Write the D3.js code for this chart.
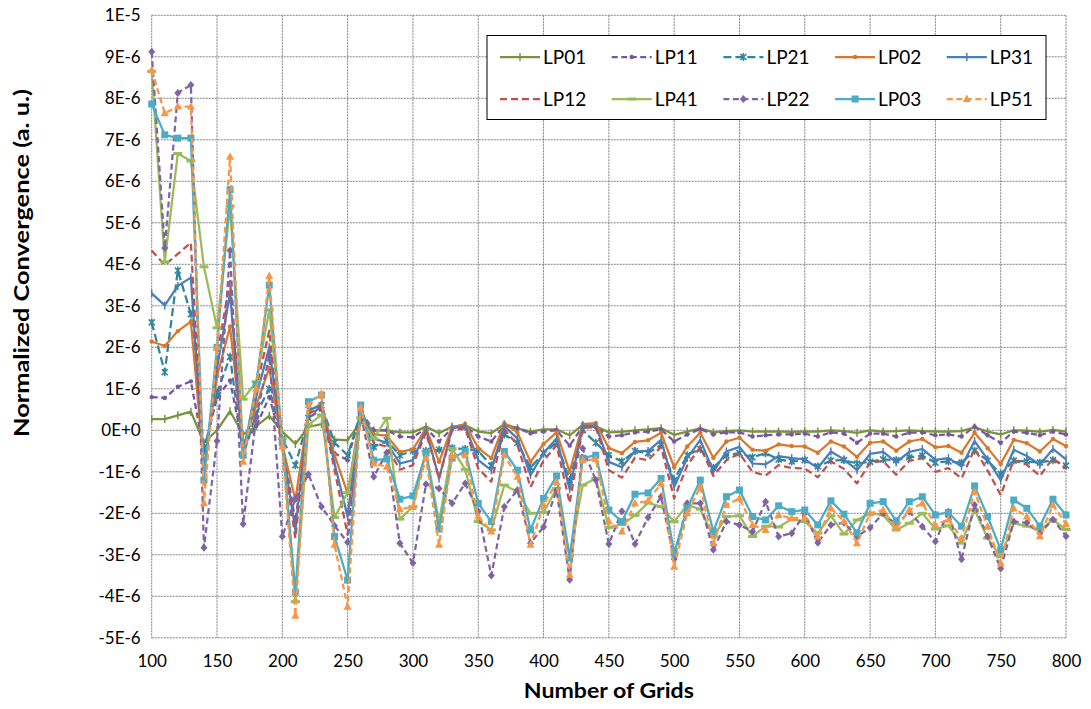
<!DOCTYPE html>
<html><head><meta charset="utf-8">
<script src="https://cdn.jsdelivr.net/npm/d3@7"></script>
<style>
body{margin:0;background:#fff;}
svg{display:block;font-family:Lato,"Open Sans",sans-serif;}
</style></head>
<body><svg id="c" width="1091" height="709"></svg>
<script>
const grids = [100,110,120,130,140,150,160,170,180,190,200,210,220,230,240,250,260,270,280,290,300,310,320,330,340,350,360,370,380,390,400,410,420,430,440,450,460,470,480,490,500,510,520,530,540,550,560,570,580,590,600,610,620,630,640,650,660,670,680,690,700,710,720,730,740,750,760,770,780,790,800];
const xTicks = [100,150,200,250,300,350,400,450,500,550,600,650,700,750,800];
const yTicks = [10,9,8,7,6,5,4,3,2,1,0,-1,-2,-3,-4,-5];
const yTickLabels = ["1E-5","9E-6","8E-6","7E-6","6E-6","5E-6","4E-6","3E-6","2E-6","1E-6","0E+0","-1E-6","-2E-6","-3E-6","-4E-6","-5E-6"];
const seriesNames = ["LP01","LP11","LP21","LP02","LP31","LP12","LP41","LP22","LP03","LP51"];
// values in units of 1E-6
const LP01 = [0.27,0.27,0.36,0.45,-0.3,0.0,0.46,-0.1,0.1,0.35,-0.03,-0.33,0.08,0.15,-0.22,-0.24,0.2,0.0,0.0,-0.05,-0.05,0.09,-0.07,0.09,0.12,-0.03,-0.07,0.15,0.05,-0.03,0.02,0.02,-0.12,0.13,0.1,-0.05,-0.04,0.0,0.02,0.05,-0.11,-0.03,0.05,-0.05,-0.02,0.0,-0.03,-0.03,-0.03,-0.04,-0.03,-0.03,0.0,-0.02,-0.06,0.0,-0.03,-0.02,0.0,-0.02,-0.03,-0.03,-0.02,0.07,-0.03,-0.1,0.0,-0.01,-0.04,0.01,-0.03];
const LP11 = [0.8,0.78,1.05,1.18,-0.5,0.8,1.2,-0.4,0.1,0.8,-0.3,-2.2,0.3,0.5,-0.55,-0.72,0.45,0.0,0.0,-0.15,-0.17,0.05,-0.27,0.05,0.1,-0.15,-0.27,0.12,0.05,-0.07,-0.03,0.0,-0.37,0.1,0.08,-0.15,-0.12,-0.05,-0.03,0.02,-0.27,-0.1,0.03,-0.1,-0.05,-0.05,-0.15,-0.12,-0.1,-0.1,-0.08,-0.15,-0.05,-0.08,-0.3,-0.08,-0.08,-0.15,-0.06,-0.05,-0.12,-0.1,-0.15,0.09,-0.12,-0.3,-0.03,-0.06,-0.12,-0.03,-0.1];
const LP21 = [2.6,1.4,3.85,2.8,-0.5,0.9,1.77,-0.6,0.4,1.0,-0.2,-0.84,0.3,0.6,-0.3,-0.6,0.4,-0.4,-0.25,-0.6,-0.5,-0.5,-0.47,-0.43,-0.45,-0.5,-0.85,-0.1,-0.3,-0.9,-0.55,-0.3,-1.2,0.0,-0.3,-0.6,-0.75,-0.5,-0.55,-0.35,-1.2,-0.6,-0.45,-0.9,-0.6,-0.55,-0.65,-0.55,-0.7,-0.75,-0.72,-0.87,-0.73,-0.72,-0.8,-0.76,-0.7,-0.72,-0.65,-0.61,-0.78,-0.75,-0.78,-0.49,-0.73,-1.05,-0.73,-0.75,-0.78,-0.72,-0.85];
const LP02 = [2.14,2.03,2.39,2.62,-0.9,1.3,2.5,-0.4,0.6,1.5,-0.35,-1.68,0.45,0.65,-0.6,-1.52,0.45,-0.1,-0.13,-0.52,-0.46,0.05,-0.76,0.08,0.15,-0.43,-0.67,0.17,-0.05,-0.76,-0.33,-0.05,-1.0,0.15,0.17,-0.43,-0.55,-0.28,-0.24,-0.06,-0.89,-0.39,-0.06,-0.66,-0.27,-0.18,-0.47,-0.49,-0.34,-0.38,-0.39,-0.54,-0.27,-0.39,-0.64,-0.3,-0.27,-0.49,-0.27,-0.21,-0.41,-0.38,-0.54,-0.06,-0.43,-0.81,-0.23,-0.31,-0.51,-0.21,-0.38];
const LP31 = [3.3,3.01,3.48,3.68,-1.0,1.5,3.3,-0.5,0.8,2.0,-0.4,-2.4,0.49,0.6,-0.8,-2.08,0.5,-0.2,-0.3,-0.8,-0.72,0.02,-1.16,0.05,0.1,-0.72,-0.96,0.1,-0.2,-1.08,-0.55,-0.2,-1.42,0.1,0.12,-0.76,-0.89,-0.5,-0.5,-0.23,-1.36,-0.67,-0.23,-1.0,-0.51,-0.4,-0.8,-0.82,-0.62,-0.67,-0.7,-0.91,-0.51,-0.7,-0.96,-0.57,-0.52,-0.77,-0.52,-0.45,-0.71,-0.67,-0.87,-0.26,-0.7,-1.2,-0.47,-0.62,-0.83,-0.45,-0.7];
const LP12 = [4.33,3.98,4.25,4.52,-1.3,1.8,3.6,-0.55,1.0,2.4,-0.45,-2.6,0.4,0.55,-0.95,-2.52,0.45,-0.3,-0.4,-0.95,-0.84,-0.05,-1.16,0.0,0.05,-0.92,-1.24,0.02,-0.35,-1.37,-0.73,-0.36,-1.75,0.05,0.08,-0.96,-1.14,-0.66,-0.72,-0.4,-1.64,-0.85,-0.4,-1.1,-0.72,-0.56,-1.0,-1.09,-0.84,-0.91,-0.92,-1.13,-0.75,-0.93,-1.28,-0.78,-0.74,-1.07,-0.74,-0.67,-1.0,-0.91,-1.16,-0.45,-0.97,-1.56,-0.72,-0.83,-1.1,-0.67,-0.93];
const LP41 = [8.65,4.06,6.67,6.49,3.94,2.47,5.4,0.75,1.17,2.9,-0.2,-4.13,0.13,0.37,-2.1,-1.5,0.3,-0.2,0.29,-2.14,-1.84,-0.5,-2.2,-0.44,-0.94,-2.2,-2.4,-1.32,-1.48,-2.0,-1.98,-1.4,-3.02,-1.32,-1.16,-2.34,-2.27,-2.05,-1.75,-1.84,-2.2,-1.8,-1.9,-2.56,-2.08,-2.06,-2.56,-2.31,-2.33,-2.14,-2.2,-2.48,-2.06,-2.5,-2.16,-2.0,-2.04,-2.4,-2.24,-2.0,-2.38,-2.3,-2.72,-1.92,-2.6,-3.05,-2.24,-2.31,-2.4,-2.16,-2.39];
const LP22 = [9.12,4.39,8.13,8.32,-2.83,-0.26,4.33,-2.26,0.3,1.8,-2.56,-1.65,-1.06,-1.84,-2.3,-2.7,0.4,-1.12,-0.54,-2.72,-3.2,-1.3,-1.4,-1.76,-1.28,-1.95,-3.5,-1.84,-1.44,-2.72,-2.33,-1.45,-3.6,-0.44,-1.2,-2.74,-1.95,-2.74,-2.1,-1.6,-3.1,-1.76,-1.76,-2.88,-2.2,-2.28,-2.44,-1.72,-2.56,-2.48,-2.0,-2.71,-2.28,-2.23,-2.56,-2.35,-2.0,-2.28,-1.96,-2.32,-2.68,-1.96,-3.11,-1.8,-2.56,-3.33,-2.2,-2.23,-2.48,-2.15,-2.55];
const LP03 = [7.86,7.12,7.04,7.04,-1.2,2.0,5.8,-0.6,1.1,3.5,-0.3,-3.9,0.69,0.85,-2.56,-3.61,0.61,-0.72,-0.69,-1.66,-1.58,-0.55,-2.38,-0.67,-0.51,-1.76,-2.2,-0.51,-0.96,-2.4,-1.64,-1.1,-3.08,-0.67,-0.6,-1.92,-2.2,-1.54,-1.51,-1.16,-2.96,-1.88,-1.2,-2.44,-1.6,-1.44,-2.08,-2.16,-1.82,-1.96,-1.92,-2.28,-1.7,-2.02,-2.47,-1.76,-1.72,-2.18,-1.72,-1.6,-2.04,-1.98,-2.31,-1.34,-2.08,-2.88,-1.68,-1.88,-2.31,-1.66,-2.04];
const LP51 = [8.68,7.64,7.8,7.8,-1.76,2.0,6.59,-0.76,1.0,3.72,-0.39,-4.47,0.61,0.88,-2.76,-4.25,0.55,-0.8,-0.88,-1.9,-1.85,-0.67,-2.76,-0.62,-0.6,-2.08,-2.44,-0.6,-1.12,-2.76,-1.8,-1.25,-3.48,-0.72,-0.7,-2.2,-2.44,-1.76,-1.7,-1.28,-3.29,-2.0,-1.36,-2.72,-1.8,-1.64,-2.28,-2.4,-2.04,-2.12,-2.1,-2.56,-1.88,-2.19,-2.72,-2.0,-1.92,-2.36,-1.92,-1.76,-2.28,-2.15,-2.6,-1.48,-2.32,-3.21,-1.88,-2.08,-2.55,-1.8,-2.26];
const seriesValues = [LP01,LP11,LP21,LP02,LP31,LP12,LP41,LP22,LP03,LP51];

const styles = {
  LP01:{color:"#77933C",dash:null,marker:"vtick"},
  LP11:{color:"#7657A0",dash:"6,3.5",marker:"dot"},
  LP21:{color:"#31859C",dash:"8,4",marker:"star"},
  LP02:{color:"#D9782C",dash:null,marker:"dot"},
  LP31:{color:"#4A7EBB",dash:null,marker:"vtick"},
  LP12:{color:"#C0504D",dash:"7,4",marker:"none"},
  LP41:{color:"#9BBB59",dash:null,marker:"bar"},
  LP22:{color:"#8064A2",dash:"6,3.5",marker:"diamond"},
  LP03:{color:"#4BACC6",dash:null,marker:"square"},
  LP51:{color:"#F79646",dash:"6,3.5",marker:"triangle"}
};

const L=151.7,R=1066,T=15.3,B=637.8;
const svg=d3.select("#c");
const x=d3.scaleLinear().domain([100,800]).range([L,R]);
const y=d3.scaleLinear().domain([-5,10]).range([B,T]);

// gridlines
const g=svg.append("g");
g.selectAll("line.h").data(yTicks).join("line")
  .attr("x1",L).attr("x2",R).attr("y1",d=>y(d)).attr("y2",d=>y(d))
  .attr("stroke","#808080").attr("stroke-width",1).attr("stroke-dasharray","2,1");
g.selectAll("line.v").data(xTicks).join("line")
  .attr("y1",T).attr("y2",B).attr("x1",d=>x(d)).attr("x2",d=>x(d))
  .attr("stroke","#808080").attr("stroke-width",1).attr("stroke-dasharray","2,1");

// axes
const yAxis=d3.axisLeft(y).tickValues(yTicks).tickSize(0).tickPadding(11)
  .tickFormat(d=>yTickLabels[yTicks.indexOf(d)]);
const ya=svg.append("g").attr("transform",`translate(${L},0)`).call(yAxis);
ya.select(".domain").remove();
ya.selectAll("text").attr("font-size",17).attr("fill","#000").attr("font-family","Lato,'Open Sans',sans-serif");
const xAxis=d3.axisBottom(x).tickValues(xTicks).tickSize(0).tickPadding(17).tickFormat(d3.format("d"));
const xa=svg.append("g").attr("transform",`translate(0,${B})`).call(xAxis);
xa.select(".domain").remove();
xa.selectAll("text").attr("font-size",17).attr("fill","#000").attr("font-family","Lato,'Open Sans',sans-serif");

svg.append("text").attr("x",(L+R)/2).attr("y",698).attr("text-anchor","middle")
  .attr("font-size",21).attr("font-weight","bold")
  .attr("textLength",170).attr("lengthAdjust","spacingAndGlyphs").text("Number of Grids");
svg.append("text").attr("transform","translate(29,263) rotate(-90)").attr("text-anchor","middle")
  .attr("font-size",21).attr("font-weight","bold")
  .attr("textLength",348).attr("lengthAdjust","spacingAndGlyphs").text("Normalized Convergence (a. u.)");

function drawMarker(sel,type,color){
  if(type==="none") return;
  if(type==="vtick"){
    sel.append("line").attr("x1",0).attr("x2",0).attr("y1",-4).attr("y2",4).attr("stroke",color).attr("stroke-width",1.5);
  } else if(type==="dot"){
    sel.append("circle").attr("r",2.2).attr("fill",color);
  } else if(type==="star"){
    sel.append("path").attr("d","M-3,-3L3,3M-3,3L3,-3M0,-4L0,4").attr("stroke",color).attr("stroke-width",1.6);
  } else if(type==="bar"){
    sel.append("line").attr("x1",-4.5).attr("x2",4.5).attr("y1",0).attr("y2",0).attr("stroke",color).attr("stroke-width",3);
  } else if(type==="diamond"){
    sel.append("path").attr("d","M0,-4L3.5,0L0,4L-3.5,0Z").attr("fill",color);
  } else if(type==="square"){
    sel.append("rect").attr("x",-3.5).attr("y",-3.5).attr("width",7).attr("height",7).attr("fill",color);
  } else if(type==="triangle"){
    sel.append("path").attr("d","M0,-4.5L4,3L-4,3Z").attr("fill",color);
  }
}

const line=d3.line().x(d=>x(d.g)).y(d=>y(d.v));
const plot=svg.append("g");
seriesNames.forEach((name,si)=>{
  const st=styles[name];
  const pts=grids.map((gv,i)=>({g:gv,v:seriesValues[si][i]}));
  const sg=plot.append("g");
  sg.append("path").datum(pts).attr("d",line).attr("fill","none")
    .attr("stroke",st.color).attr("stroke-width",2.25)
    .attr("stroke-dasharray",st.dash).attr("stroke-linejoin","round");
  pts.forEach(p=>{
    const m=sg.append("g").attr("transform",`translate(${x(p.g)},${y(p.v)})`);
    drawMarker(m,st.marker,st.color);
  });
});

// legend
const lg=svg.append("g");
lg.append("rect").attr("x",487).attr("y",35.5).attr("width",559).attr("height",84)
  .attr("fill","#fff").attr("stroke","#000").attr("stroke-width",1);
seriesNames.forEach((name,i)=>{
  const st=styles[name];
  const col=i%5,row=Math.floor(i/5);
  const lx=500+col*111.7, ly=row===0?57:99;
  const e=lg.append("g");
  e.append("line").attr("x1",lx).attr("x2",lx+40).attr("y1",ly).attr("y2",ly)
    .attr("stroke",st.color).attr("stroke-width",2.25).attr("stroke-dasharray",st.dash);
  const m=e.append("g").attr("transform",`translate(${lx+20},${ly})`);
  drawMarker(m,st.marker,st.color);
  e.append("text").attr("x",lx+43).attr("y",ly).attr("dy","0.36em").attr("font-size",19).text(name);
});
</script></body></html>
